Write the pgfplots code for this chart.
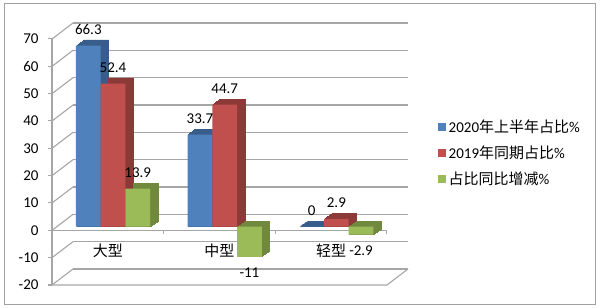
\documentclass[border=0pt]{standalone}
\usepackage{pgfplots}
\pgfplotsset{compat=1.18}
\usepackage{fontspec}
\setmainfont{Carlito}
\newfontfamily\cjk{Noto Sans CJK SC}
\definecolor{cblue}{HTML}{4F81BD}
\definecolor{cbluedk}{HTML}{385D8A}
\definecolor{cred}{HTML}{C0504D}
\definecolor{creddk}{HTML}{8C3A38}
\definecolor{cgreen}{HTML}{9BBB59}
\definecolor{cgreendk}{HTML}{71893F}
\definecolor{gridgray}{HTML}{A6A6A6}
\definecolor{framegray}{HTML}{A0A0A0}
\begin{document}
\begin{tikzpicture}
\path[use as bounding box] (0pt,0pt) rectangle (600pt,308pt);
\draw[framegray, line width=1pt] (4.5pt,3.5pt) rectangle (595.5pt,304.5pt);
\pgfplotsset{base/.style={scale only axis, width=335pt, height=246pt,
  xmin=0.5, xmax=3.5, ymin=-20, ymax=70, anchor=south west,
  /pgf/number format/assume math mode=true}}
% back wall grid
\begin{axis}[base, at={(73pt,39pt)},
  axis line style={draw=none}, tick style={draw=none},
  xtick=\empty, ytick={-20,-10,...,70}, yticklabels={},
  ymajorgrids, grid style={gridgray, line width=1.1pt}]
\end{axis}
% front frame
\begin{axis}[base, at={(52pt,23pt)}, clip=false,
  axis x line=none, axis y line*=left,
  axis line style={gridgray, line width=1.1pt},
  ytick={-20,-10,...,70}, xtick=\empty,
  tick align=outside, major tick length=4pt,
  tick style={gridgray, line width=1pt},
  yticklabel style={font=\fontsize{15}{18}\selectfont, text=black, xshift=-6pt}]
% side wall diagonals, floor edges, category axis
\addplot[gridgray, line width=1.1pt, forget plot] coordinates {(0.5,-20) (0.68806,-14.1463)};
\addplot[gridgray, line width=1.1pt, forget plot] coordinates {(0.5,-10) (0.68806,-4.1463)};
\addplot[gridgray, line width=1.1pt, forget plot] coordinates {(0.5,0) (0.68806,5.8537)};
\addplot[gridgray, line width=1.1pt, forget plot] coordinates {(0.5,10) (0.68806,15.8537)};
\addplot[gridgray, line width=1.1pt, forget plot] coordinates {(0.5,20) (0.68806,25.8537)};
\addplot[gridgray, line width=1.1pt, forget plot] coordinates {(0.5,30) (0.68806,35.8537)};
\addplot[gridgray, line width=1.1pt, forget plot] coordinates {(0.5,40) (0.68806,45.8537)};
\addplot[gridgray, line width=1.1pt, forget plot] coordinates {(0.5,50) (0.68806,55.8537)};
\addplot[gridgray, line width=1.1pt, forget plot] coordinates {(0.5,60) (0.68806,65.8537)};
\addplot[gridgray, line width=1.1pt, forget plot] coordinates {(0.5,70) (0.68806,75.8537)};
\addplot[gridgray, line width=1.1pt, forget plot] coordinates {(0.5,-20) (3.5,-20) (3.68806,-14.1463)};
\addplot[gridgray, line width=1.1pt, forget plot] coordinates {(0.5,0) (3.5,0)};
\addplot[gridgray, line width=1pt, forget plot] coordinates {(1.5,0) (1.5,-1.5)};
\addplot[gridgray, line width=1pt, forget plot] coordinates {(2.5,0) (2.5,-1.5)};
\addplot[gridgray, line width=1pt, forget plot] coordinates {(3.5,0) (3.5,-1.5)};
\node[yshift=-20pt, font=\cjk\fontsize{15}{18}\selectfont] at (axis cs:1,0) {大型};
\node[yshift=-20pt, font=\cjk\fontsize{15}{18}\selectfont] at (axis cs:2,0) {中型};
\node[yshift=-20pt, font=\cjk\fontsize{15}{18}\selectfont] at (axis cs:3,0) {轻型};
\end{axis}
% bars
\begin{axis}[base, at={(57.2pt,26.6pt)}, hide axis, clip=false,
  ybar, bar width=24.7pt,
  nodes near coords align=vertical,
  every node near coord/.append style={font=\fontsize{15}{18}\selectfont, text=black, inner ysep=11pt, inner xsep=0pt},
  legend style={at={(1.1367,0.522)}, anchor=west, draw=none, fill=none,
    font=\fontsize{15}{18}\selectfont, row sep=7pt, inner sep=0pt,
    nodes={inner sep=2.5pt}},
  legend cell align=left,
  legend image code/.code={\fill[#1] (0pt,-4pt) rectangle (8pt,4pt);}]
\pgfplotsinvokeforeach{1,...,8}{
  \addplot[forget plot, fill=cbluedk, draw=cbluedk, line width=0.6pt, bar shift=-24.7pt, xshift=#1pt, yshift={0.69*#1pt}] coordinates {(1,66.3) (2,33.7) (3,0)};
  \addplot[forget plot, fill=creddk, draw=creddk, line width=0.6pt, bar shift=0pt, xshift=#1pt, yshift={0.69*#1pt}] coordinates {(1,52.4) (2,44.7) (3,2.9)};
  \addplot[forget plot, fill=cgreendk, draw=cgreendk, line width=0.6pt, bar shift=24.7pt, xshift=#1pt, yshift={0.69*#1pt}] coordinates {(1,13.9) (2,-11) (3,-2.9)};
}
\addplot[fill=cblue, draw=none, bar shift=-24.7pt, nodes near coords] coordinates {(1,66.3) (2,33.7) (3,0)};
\addplot[fill=cred, draw=none, bar shift=0pt, nodes near coords] coordinates {(1,52.4) (2,44.7) (3,2.9)};
\addplot[fill=cgreen, draw=none, bar shift=24.7pt, nodes near coords] coordinates {(1,13.9) (2,-11) (3,-2.9)};
\addlegendentry{2020{\cjk 年上半年占比}\%}
\addlegendentry{2019{\cjk 年同期占比}\%}
\addlegendentry{{\cjk 占比同比增减}\%}
\end{axis}
\end{tikzpicture}
\end{document}
